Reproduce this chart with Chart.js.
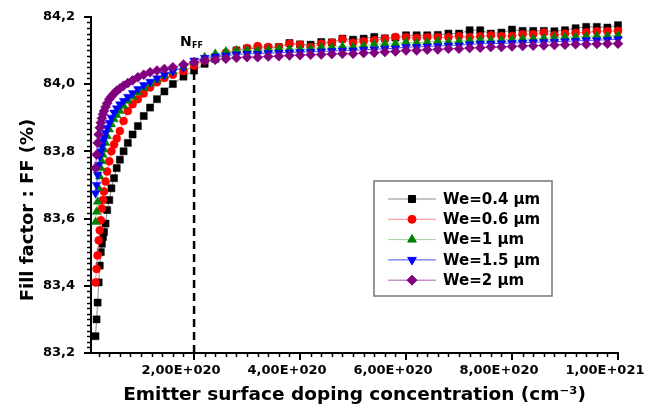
<!DOCTYPE html>
<html>
<head>
<meta charset="utf-8">
<script src="https://cdn.jsdelivr.net/npm/chart.js@4"></script>
<style>
  body { margin: 0; background: #fff; }
  canvas { display: block; }
</style>
</head>
<body>
<canvas id="ffChart" width="645" height="409"></canvas>
<script>
// emitter surface doping (cm-3), shared by all curves
const doping = [
  1.4e19, 1.6e19, 1.8e19, 2.0e19, 2.2e19, 2.4e19, 2.6e19, 2.8e19, 3.0e19, 3.3e19,
  3.6e19, 4.0e19, 4.4e19, 4.9e19, 5.4e19, 6.0e19, 6.7e19, 7.5e19, 8.4e19, 9.4e19,
  1.05e20, 1.17e20, 1.30e20, 1.44e20, 1.60e20, 1.80e20, 2.0e20, 2.2e20, 2.4e20, 2.6e20,
  2.8e20, 3.0e20, 3.2e20, 3.4e20, 3.6e20, 3.8e20, 4.0e20, 4.2e20, 4.4e20, 4.6e20,
  4.8e20, 5.0e20, 5.2e20, 5.4e20, 5.6e20, 5.8e20, 6.0e20, 6.2e20, 6.4e20, 6.6e20,
  6.8e20, 7.0e20, 7.2e20, 7.4e20, 7.6e20, 7.8e20, 8.0e20, 8.2e20, 8.4e20, 8.6e20,
  8.8e20, 9.0e20, 9.2e20, 9.4e20, 9.6e20, 9.8e20, 1.0e21
];

const ffWe04 = [
  83.25, 83.30, 83.35, 83.41, 83.46, 83.50, 83.525, 83.545, 83.56, 83.585,
  83.625, 83.655, 83.69, 83.72, 83.75, 83.775, 83.80, 83.825, 83.85, 83.875,
  83.905, 83.93, 83.955, 83.978, 84.00, 84.022, 84.04, 84.06, 84.075, 84.088,
  84.10, 84.105, 84.107, 84.108, 84.11, 84.122, 84.118, 84.117, 84.125, 84.124,
  84.135, 84.132, 84.135, 84.14, 84.136, 84.138, 84.145, 84.145, 84.145, 84.146,
  84.15, 84.15, 84.16, 84.16, 84.15, 84.153, 84.162, 84.158, 84.158, 84.158,
  84.157, 84.16, 84.166, 84.17, 84.17, 84.168, 84.175
];
const ffWe06 = [
  83.41, 83.45, 83.49, 83.535, 83.565, 83.595, 83.63, 83.655, 83.68, 83.71,
  83.74, 83.77, 83.80, 83.82, 83.838, 83.86, 83.89, 83.92, 83.94, 83.955,
  83.972, 83.99, 84.005, 84.018, 84.028, 84.038, 84.055, 84.07, 84.082, 84.093,
  84.10, 84.107, 84.113, 84.11, 84.11, 84.12, 84.117, 84.11, 84.12, 84.123,
  84.133, 84.123, 84.127, 84.13, 84.135, 84.14, 84.139, 84.137, 84.139, 84.139,
  84.139, 84.142, 84.139, 84.142, 84.145, 84.143, 84.143, 84.148, 84.148, 84.153,
  84.145, 84.15, 84.152, 84.154, 84.157, 84.157, 84.158
];
const ffWe1 = [
  83.59, 83.62, 83.65, 83.69, 83.725, 83.75, 83.77, 83.79, 83.805, 83.825,
  83.845, 83.865, 83.88, 83.895, 83.908, 83.92, 83.935, 83.95, 83.962, 83.975,
  83.988, 84.00, 84.012, 84.025, 84.037, 84.05, 84.065, 84.08, 84.09, 84.097,
  84.10, 84.102, 84.10, 84.102, 84.105, 84.104, 84.104, 84.105, 84.11, 84.11,
  84.112, 84.11, 84.115, 84.118, 84.12, 84.12, 84.125, 84.123, 84.125, 84.128,
  84.125, 84.128, 84.13, 84.132, 84.13, 84.132, 84.133, 84.135, 84.135, 84.137,
  84.138, 84.14, 84.14, 84.142, 84.143, 84.143, 84.145
];
const ffWe15 = [
  83.675, 83.70, 83.73, 83.76, 83.785, 83.80, 83.815, 83.83, 83.84, 83.855,
  83.87, 83.885, 83.90, 83.915, 83.928, 83.94, 83.95, 83.962, 83.973, 83.985,
  83.997, 84.007, 84.017, 84.028, 84.038, 84.05, 84.07, 84.078, 84.082, 84.085,
  84.088, 84.09, 84.09, 84.092, 84.093, 84.094, 84.095, 84.096, 84.097, 84.098,
  84.10, 84.10, 84.102, 84.103, 84.105, 84.106, 84.11, 84.11, 84.112, 84.113,
  84.115, 84.115, 84.118, 84.12, 84.12, 84.121, 84.122, 84.123, 84.124, 84.125,
  84.126, 84.127, 84.128, 84.13, 84.13, 84.132, 84.133
];
const ffWe2 = [
  83.75, 83.79, 83.825, 83.85, 83.87, 83.885, 83.898, 83.91, 83.92, 83.932,
  83.943, 83.955, 83.963, 83.972, 83.98, 83.987, 83.995, 84.003, 84.011, 84.02,
  84.028, 84.035, 84.04, 84.045, 84.05, 84.058, 84.065, 84.07, 84.072, 84.075,
  84.078, 84.08, 84.08, 84.082, 84.083, 84.085, 84.086, 84.087, 84.088, 84.089,
  84.09, 84.09, 84.092, 84.093, 84.095, 84.097, 84.10, 84.10, 84.102, 84.103,
  84.105, 84.105, 84.107, 84.108, 84.11, 84.11, 84.112, 84.113, 84.114, 84.115,
  84.116, 84.117, 84.118, 84.118, 84.119, 84.12, 84.12
];

const seriesLabels = ['We=0.4 µm', 'We=0.6 µm', 'We=1 µm', 'We=1.5 µm', 'We=2 µm'];

const xTicks = [2e20, 4e20, 6e20, 8e20, 1e21];
const xTickLabels = ['2,00E+020', '4,00E+020', '6,00E+020', '8,00E+020', '1,00E+021'];
const yTicks = [83.2, 83.4, 83.6, 83.8, 84.0, 84.2];
const yTickLabels = ['83,2', '83,4', '83,6', '83,8', '84,0', '84,2'];

// optimum doping marker N_FF
const nFF = 2e20;
const nFFTop = 84.065;

Chart.defaults.font.family = 'DejaVu Sans';
Chart.defaults.font.weight = 'bold';
Chart.defaults.color = '#000';

function series(label, values, color, lineColor, style, radius, rotation, order) {
  return {
    label: label,
    data: doping.map((x, i) => ({ x: x, y: values[i] })),
    showLine: true,
    borderColor: lineColor,
    borderWidth: 1,
    pointStyle: style,
    pointRadius: radius,
    pointRotation: rotation,
    pointBackgroundColor: color,
    pointBorderColor: color,
    pointBorderWidth: 0.5,
    order: order,
    clip: false
  };
}

const minorTicks = {
  id: 'minorTicks',
  afterDraw(chart) {
    const { ctx, scales: { x, y } } = chart;
    ctx.save();
    ctx.strokeStyle = '#000';
    ctx.lineWidth = 1.5;
    ctx.beginPath();
    for (let k = 1; k < 60; k++) {
      if (k % 12 === 0) continue;
      const v = 83.2 + k * 0.2 / 12;
      if (v > 84.2) break;
      const py = Math.round(y.getPixelForValue(v)) + 0.5;
      ctx.moveTo(x.left - 4, py);
      ctx.lineTo(x.left, py);
    }
    for (let k = 1; k < 50; k++) {
      if (k % 10 === 0) continue;
      const v = k * 2e19;
      if (v < x.min) continue;
      const px = Math.round(x.getPixelForValue(v)) + 0.5;
      ctx.moveTo(px, y.bottom);
      ctx.lineTo(px, y.bottom + 4);
    }
    ctx.stroke();
    ctx.restore();
  }
};

const extras = {
  id: 'extras',
  afterDraw(chart) {
    const { ctx, scales: { x, y } } = chart;
    ctx.save();
    // y axis title
    ctx.translate(28, 210);
    ctx.rotate(-Math.PI / 2);
    ctx.font = 'bold 18px "DejaVu Sans"';
    ctx.textAlign = 'center';
    ctx.textBaseline = 'middle';
    ctx.fillStyle = '#000';
    ctx.fillText('Fill factor : FF (%)', 0, 0);
    ctx.restore();

    // N_FF label
    ctx.save();
    const nx = x.getPixelForValue(nFF);
    const ny = y.getPixelForValue(nFFTop);
    ctx.fillStyle = '#000';
    ctx.textBaseline = 'alphabetic';
    ctx.font = 'bold 14px "DejaVu Sans"';
    ctx.fillText('N', nx - 14, ny - 16);
    ctx.font = 'bold 8px "DejaVu Sans"';
    ctx.fillText('FF', nx - 2, ny - 14);
    ctx.restore();

    // legend box
    const items = chart.data.datasets.filter(d => d.label);
    const bx = 374, by = 181, bw = 178, bh = 115;
    ctx.save();
    ctx.fillStyle = '#fff';
    ctx.fillRect(bx, by, bw, bh);
    ctx.strokeStyle = '#777';
    ctx.lineWidth = 1.5;
    ctx.strokeRect(bx, by, bw, bh);
    items.forEach((d, i) => {
      const ry = by + 18 + i * 20.3;
      ctx.strokeStyle = d.borderColor;
      ctx.lineWidth = 1;
      ctx.beginPath();
      ctx.moveTo(bx + 14, ry);
      ctx.lineTo(bx + 62, ry);
      ctx.stroke();
      ctx.fillStyle = d.pointBackgroundColor;
      ctx.strokeStyle = d.pointBorderColor;
      Chart.helpers.drawPoint(ctx, {
        pointStyle: d.pointStyle,
        radius: d.pointRadius,
        rotation: d.pointRotation,
        borderWidth: 0.5
      }, bx + 38, ry);
      ctx.fillStyle = '#000';
      ctx.font = 'bold 15px "DejaVu Sans"';
      ctx.textAlign = 'left';
      ctx.textBaseline = 'middle';
      ctx.fillText(d.label, bx + 69, ry + 1);
    });
    ctx.restore();
  }
};

const ctx = document.getElementById('ffChart').getContext('2d');
const chart = new Chart(ctx, {
  type: 'scatter',
  data: {
    datasets: [
      series(seriesLabels[0], ffWe04, '#000000', '#888888', 'rect', 5, 0, 5),
      series(seriesLabels[1], ffWe06, '#ff0000', '#ff8c8c', 'circle', 4, 0, 4),
      series(seriesLabels[2], ffWe1, '#008000', '#9fd49f', 'triangle', 5, 0, 3),
      series(seriesLabels[3], ffWe15, '#0000ff', '#5050ff', 'triangle', 5, 180, 2),
      series(seriesLabels[4], ffWe2, '#800080', '#b060b0', 'rectRot', 5, 0, 1),
      {
        data: [{ x: nFF, y: 83.2 }, { x: nFF, y: nFFTop }],
        showLine: true,
        borderColor: '#000',
        borderWidth: 2.5,
        borderDash: [8, 5],
        pointRadius: 0,
        order: 6
      }
    ]
  },
  options: {
    responsive: false,
    animation: false,
    layout: { padding: { left: 0, top: 15, right: 27, bottom: 0 } },
    plugins: {
      legend: { display: false },
      tooltip: { enabled: false }
    },
    scales: {
      x: {
        type: 'linear',
        min: 5.5e18,
        max: 1e21,
        afterBuildTicks: s => { s.ticks = xTicks.map(v => ({ value: v })); },
        afterFit: s => { s.height = 56; s.paddingLeft = 0; s.paddingRight = 0; },
        ticks: {
          autoSkip: false,
          maxRotation: 0,
          padding: 3,
          labelOffset: -13,
          font: { size: 13, weight: 'bold' },
          callback: (v, i) => xTickLabels[i]
        },
        grid: { drawOnChartArea: false, tickLength: 7, tickColor: '#000', lineWidth: 2 },
        border: { display: true, color: '#000', width: 2 },
        title: {
          display: true,
          text: 'Emitter surface doping concentration (cm⁻³)',
          font: { size: 18.5, weight: 'bold' },
          padding: { top: 0, bottom: 3 }
        }
      },
      y: {
        min: 83.2,
        max: 84.2,
        afterBuildTicks: s => { s.ticks = yTicks.map(v => ({ value: v })); },
        afterFit: s => { s.width = 91; },
        ticks: {
          padding: 9,
          font: { size: 13, weight: 'bold' },
          callback: (v, i) => yTickLabels[i]
        },
        grid: { drawOnChartArea: false, tickLength: 7, tickColor: '#000', lineWidth: 2 },
        border: { display: true, color: '#000', width: 2 }
      }
    }
  },
  plugins: [minorTicks, extras]
});
</script>
</body>
</html>
